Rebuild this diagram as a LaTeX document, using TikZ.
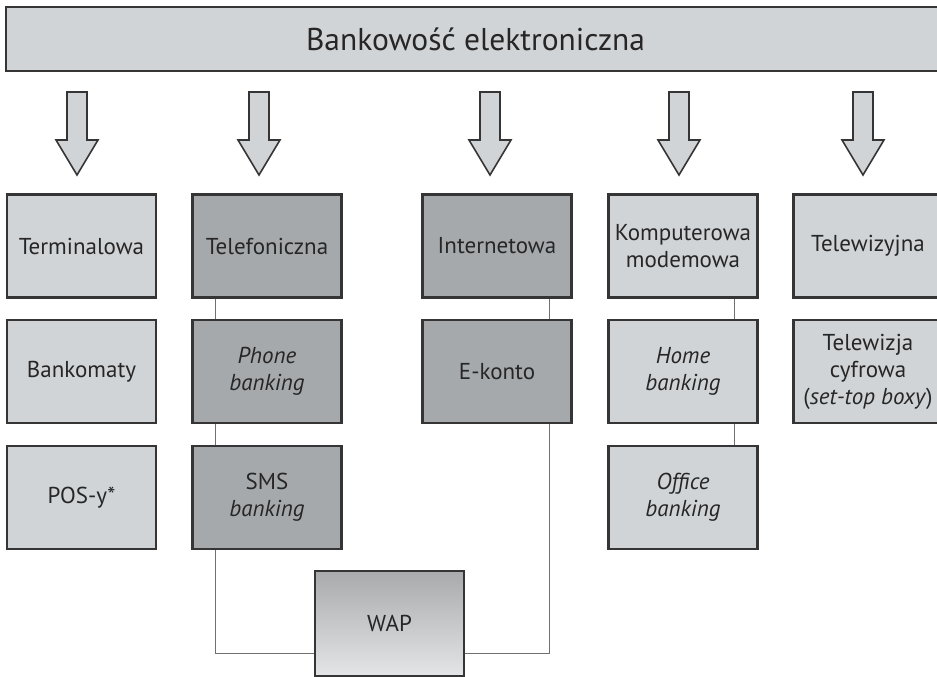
\documentclass[tikz,border=0pt]{standalone}
\usepackage{fontspec}
\setmainfont{PT Sans}
\definecolor{lightbox}{HTML}{D1D4D7}
\definecolor{darkbox}{HTML}{A6A9AC}
\definecolor{edgec}{HTML}{353535}
\definecolor{wirec}{HTML}{707070}
\definecolor{txtc}{HTML}{262626}
\definecolor{wapTop}{HTML}{A8AAAC}
\definecolor{wapBot}{HTML}{E4E5E6}
\tikzset{
  box/.style={draw=edgec, line width=2.2pt, minimum width=149pt, minimum height=103pt,
    inner sep=0pt, align=center, font=\fontsize{23}{27}\selectfont, text=txtc},
  lightb/.style={box, fill=lightbox},
  darkb/.style={box, fill=darkbox},
  wire/.style={draw=wirec, line width=1.3pt},
  bigarrow/.style={draw=edgec, line width=1.6pt, fill=lightbox, line join=miter},
}
\begin{document}
\begin{tikzpicture}[x=1pt,y=-1pt]
\useasboundingbox (0,0) rectangle (937,677);
% title bar
\node[box, fill=lightbox, minimum width=939pt, minimum height=64pt, font=\fontsize{31.5}{36}\selectfont]
  (title) at (475.5,39) {Bankowość elektroniczna};
% block arrows
\foreach \x in {77,259,490,679,863}
  \draw[bigarrow] (\x-10,92) -- (\x+10,92) -- (\x+10,140) -- (\x+21,140) -- (\x,175)
    -- (\x-21,140) -- (\x-10,140) -- cycle;
% column 1
\node[lightb] (term) at (81.5,246) {Terminalowa};
\node[lightb] (bank) at (81.5,371.5) {Bankomaty};
\node[lightb] (pos)  at (81.5,497.5) {POS-y*};
% column 2
\node[darkb] (tel)   at (267,246) {Telefoniczna};
\node[darkb] (phone) at (267,371.5) {\textit{Phone}\\\textit{banking}};
\node[darkb] (sms)   at (267,497.5) {SMS\\\textit{banking}};
% column 3
\node[darkb] (inet)   at (497,246) {Internetowa};
\node[darkb] (ekonto) at (497,371.5) {E-konto};
% column 4
\node[lightb] (komp)   at (683,246) {Komputerowa\\modemowa};
\node[lightb] (home)   at (683,371.5) {\textit{Home}\\\textit{banking}};
\node[lightb] (office) at (683,497.5) {\textit{Office}\\\textit{banking}};
% column 5
\node[lightb] (tv)  at (868,246) {Telewizyjna};
\node[lightb] (tvc) at (868,371.5) {Telewizja\\cyfrowa\\(\textit{set-top boxy})};
% WAP
\node[box, top color=wapTop, bottom color=wapBot, minimum height=105pt] (wap) at (389.5,623.5) {WAP};
\coordinate (wl) at ([yshift=-30pt]wap.west);
\coordinate (wr) at ([yshift=-30pt]wap.east);
% connectors
\draw[wire] ([xshift=24pt]tel.south west) -- ([xshift=24pt]phone.north west);
\draw[wire] ([xshift=24pt]phone.south west) -- ([xshift=24pt]sms.north west);
\draw[wire] ([xshift=-23pt]inet.south east) -- ([xshift=-23pt]ekonto.north east);
\draw[wire] ([xshift=-24pt]komp.south east) -- ([xshift=-24pt]home.north east);
\draw[wire] ([xshift=-24pt]home.south east) -- ([xshift=-24pt]office.north east);
\draw[wire] ([xshift=24pt]sms.south west) |- (wl);
\draw[wire] ([xshift=-23pt]ekonto.south east) |- (wr);
\end{tikzpicture}
\end{document}
